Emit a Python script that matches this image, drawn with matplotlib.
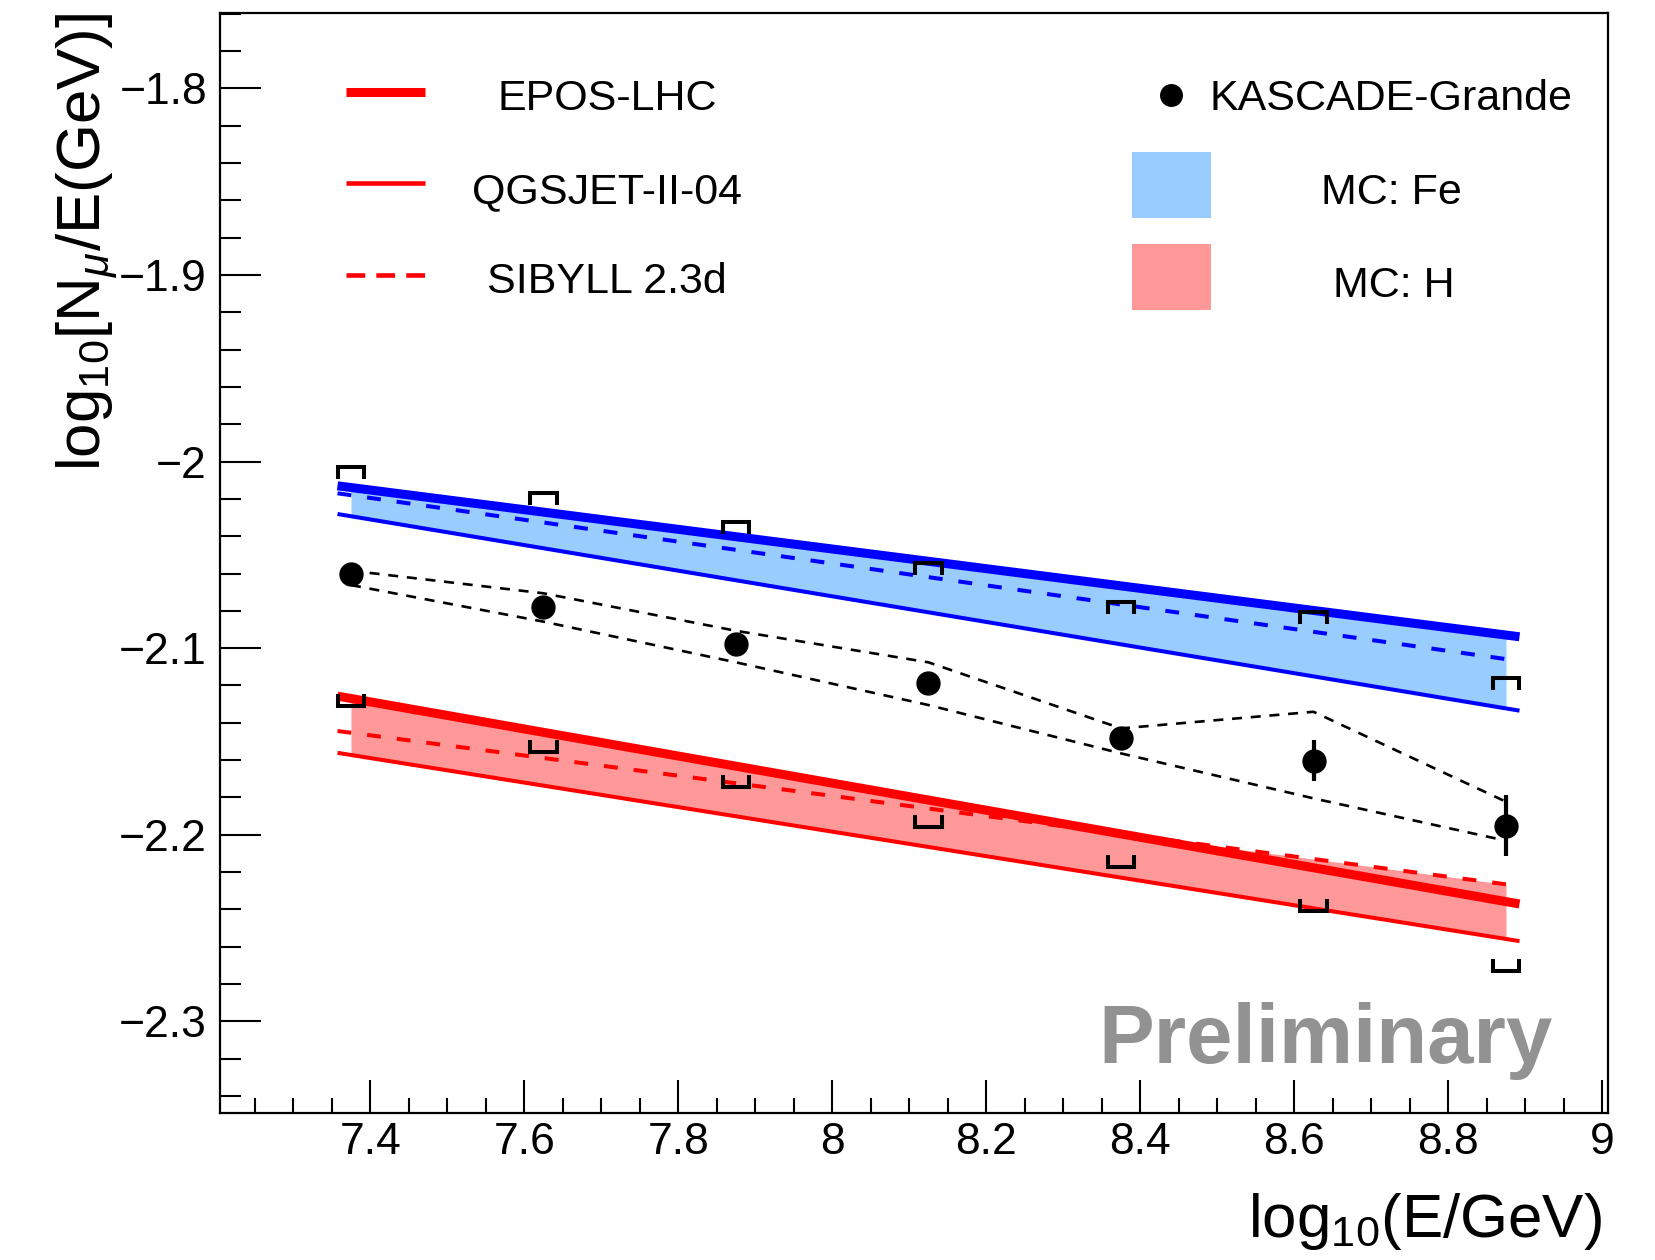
import numpy as np
import matplotlib
matplotlib.use('Agg')
import matplotlib.pyplot as plt
from matplotlib.ticker import MultipleLocator, FuncFormatter
from matplotlib.patches import Rectangle

plt.rcParams['font.family'] = ['Liberation Sans', 'DejaVu Sans']
plt.rcParams['mathtext.fontset'] = 'custom'
plt.rcParams['mathtext.rm'] = 'Liberation Sans'
plt.rcParams['mathtext.it'] = 'Liberation Sans:italic'
plt.rcParams['mathtext.bf'] = 'Liberation Sans:bold'
plt.rcParams['lines.scale_dashes'] = False

# ---------------- data ----------------
energy_bins = [7.375, 7.625, 7.875, 8.125, 8.375, 8.625, 8.875]
kg_values = [-2.0605, -2.0781, -2.0978, -2.1187, -2.1482, -2.1603, -2.1952]
kg_stat_err = [0.002, 0.002, 0.003, 0.003, 0.006, 0.011, 0.0164]
kg_sys_upper = [-2.0031, -2.0170, -2.0323, -2.0546, -2.0753, -2.0805, -2.1162]
kg_sys_lower = [-2.1310, -2.1555, -2.1746, -2.1957, -2.2171, -2.2407, -2.2729]
kg_band_upper = [-2.0585, -2.0706, -2.0907, -2.1076, -2.1430, -2.1341, -2.1823]
kg_band_lower = [-2.0662, -2.0858, -2.1076, -2.1305, -2.1564, -2.1805, -2.2032]

model_x = [7.3575, 8.8925]
fe_epos = [-2.0130, -2.0939]
fe_qgsjet = [-2.0281, -2.1335]
fe_sibyll = [-2.0170, -2.1069]
h_epos = [-2.1257, -2.2371]
h_qgsjet = [-2.1561, -2.2570]
h_sibyll = [-2.1444, -2.2275]
band_x = [7.375, 8.875]

legend_models = ['EPOS-LHC', 'QGSJET-II-04', 'SIBYLL 2.3d']
legend_right = ['KASCADE-Grande', 'MC: Fe', 'MC: H']

# ---------------- styles ----------------
BLUE = '#0000ff'
RED = '#ff0000'
BLUE_FILL = '#99ccff'
RED_FILL = '#ff9999'
LW_THICK = 6.5
LW_THIN = 2.9
DASH = (0, (10, 11.5))

fig = plt.figure(figsize=(16.56, 12.6), dpi=100)
ax = fig.add_axes([0.1329, 0.1164, 0.8379, 0.8730])
ax.set_xlim(7.205, 9.007)
ax.set_ylim(-2.3493, -1.7598)

# MC bands (envelope of the three models)
xs = np.linspace(band_x[0], band_x[1], 301)
for models, fc in [((fe_epos, fe_qgsjet, fe_sibyll), BLUE_FILL),
                   ((h_epos, h_qgsjet, h_sibyll), RED_FILL)]:
    vals = np.array([np.interp(xs, model_x, m) for m in models])
    ax.fill_between(xs, vals.min(axis=0), vals.max(axis=0), color=fc, lw=0, zorder=1)

# model lines
for ys, col in [(fe_epos, BLUE), (h_epos, RED)]:
    ax.plot(model_x, ys, color=col, lw=LW_THICK, solid_capstyle='butt', zorder=2)
for ys, col in [(fe_qgsjet, BLUE), (h_qgsjet, RED)]:
    ax.plot(model_x, ys, color=col, lw=LW_THIN, solid_capstyle='butt', zorder=2)
for ys, col in [(fe_sibyll, BLUE), (h_sibyll, RED)]:
    ax.plot(model_x, ys, color=col, lw=LW_THIN, linestyle=DASH, dash_capstyle='butt', zorder=3)

# KASCADE-Grande uncertainty band (dashed)
ax.plot(energy_bins, kg_band_upper, color='k', lw=1.9, linestyle=(0, (7.2, 6.3)), zorder=4)
ax.plot(energy_bins, kg_band_lower, color='k', lw=1.9, linestyle=(0, (7.2, 6.3)), zorder=4)

# systematic brackets
bw = 0.0169
bl = 0.0064
for x, yu, yl in zip(energy_bins, kg_sys_upper, kg_sys_lower):
    ax.plot([x - bw, x - bw, x + bw, x + bw], [yu - bl, yu, yu, yu - bl],
            color='k', lw=2.9, solid_joinstyle='miter', solid_capstyle='butt', zorder=5)
    ax.plot([x - bw, x - bw, x + bw, x + bw], [yl + bl, yl, yl, yl + bl],
            color='k', lw=2.9, solid_joinstyle='miter', solid_capstyle='butt', zorder=5)

# data points
ax.errorbar(energy_bins, kg_values, yerr=kg_stat_err, fmt='none', ecolor='k',
            elinewidth=3, capsize=0, zorder=6)
ax.plot(energy_bins, kg_values, 'o', color='k', ms=16.5, mec='k', zorder=7)

# ---------------- axes styling ----------------
ax.xaxis.set_major_locator(MultipleLocator(0.2))
ax.xaxis.set_minor_locator(MultipleLocator(0.05))
ax.yaxis.set_major_locator(MultipleLocator(0.1))
ax.yaxis.set_minor_locator(MultipleLocator(0.02))
fmt = FuncFormatter(lambda v, p: ('%g' % round(v, 4)).replace('-', '\u2212'))
ax.xaxis.set_major_formatter(fmt)
ax.yaxis.set_major_formatter(fmt)
ax.tick_params(which='both', direction='in', top=False, right=False, width=1.5,
               labelsize=32, colors='k')
ax.xaxis.set_tick_params(which='major', length=23.8, pad=6)
ax.xaxis.set_tick_params(which='minor', length=10.5)
ax.yaxis.set_tick_params(which='major', length=29.5, pad=9.5)
ax.yaxis.set_tick_params(which='minor', length=15)
for sp in ax.spines.values():
    sp.set_linewidth(1.6)

fig.text(1602 / 1656, 1 - 1236.7 / 1260, 'log$_{10}$(E/GeV)', ha='right', va='baseline',
         fontsize=44.5)
fig.text(100 / 1656, 1 - 13.3 / 1260, 'log$_{10}$[N$_{\\mu}$/E(GeV)]', rotation=90,
         rotation_mode='anchor', ha='right', va='baseline', fontsize=44.5)

# ---------------- legend ----------------
T = ax.transAxes
ly = [0.9287, 0.8455, 0.7621]
lb = [0.9121, 0.8273, 0.7455]
ax.plot([0.0908, 0.1477], [ly[0]] * 2, transform=T, color=RED, lw=LW_THICK,
        solid_capstyle='butt', clip_on=False)
ax.plot([0.0908, 0.1477], [ly[1]] * 2, transform=T, color=RED, lw=3.3,
        solid_capstyle='butt', clip_on=False)
ax.plot([0.0908, 0.1477], [ly[2]] * 2, transform=T, color=RED, lw=3.3,
        linestyle=(0, (13.5, 8)), dash_capstyle='butt', clip_on=False)
for name, yb in zip(legend_models, lb):
    ax.text(0.279, yb, name, transform=T, ha='center', va='baseline', fontsize=31)

ax.plot([0.6853], [0.9257], 'o', transform=T, color='k', ms=15.5, clip_on=False)
ax.text(0.7130, 0.9121, legend_right[0], transform=T, ha='left', va='baseline', fontsize=31)
ax.add_patch(Rectangle((0.6571, 0.8136), 0.0574, 0.0600, transform=T, facecolor=BLUE_FILL,
                       edgecolor='none'))
ax.add_patch(Rectangle((0.6571, 0.7303), 0.0574, 0.0600, transform=T, facecolor=RED_FILL,
                       edgecolor='none'))
ax.text(0.8443, 0.8266, legend_right[1], transform=T, ha='center', va='baseline', fontsize=31)
ax.text(0.8458, 0.7424, legend_right[2], transform=T, ha='center', va='baseline', fontsize=31)

ax.text(0.9607, 0.04545, 'Preliminary', transform=T, ha='right', va='baseline',
        fontsize=60, fontweight='bold', color='#929292')

fig.savefig('out.png', dpi=100)
